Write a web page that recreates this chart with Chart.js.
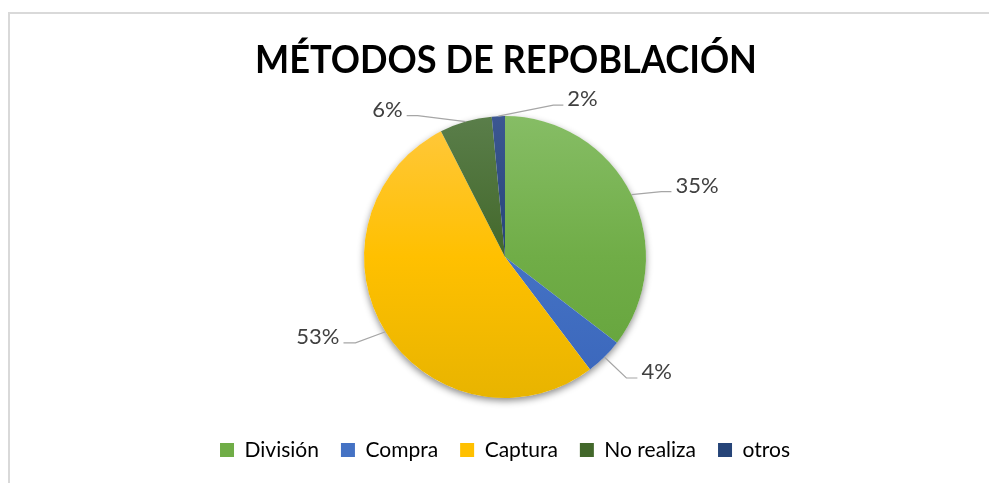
<!DOCTYPE html>
<html>
<head>
<meta charset="utf-8">
<script src="https://cdn.jsdelivr.net/npm/chart.js@4.4.1/dist/chart.umd.min.js"></script>
<style>
  html, body { margin: 0; padding: 0; background: #ffffff; }
  #frame { position: absolute; left: 8px; top: 12px; width: 1100px; height: 600px;
           border-left: 2px solid #d9d9d9; border-top: 2px solid #d9d9d9; }
  #wrap { position: absolute; left: 0; top: 0; width: 989px; height: 483px; }
</style>
</head>
<body>
<div id="frame"></div>
<div id="wrap"><canvas id="c" width="989" height="483"></canvas></div>
<script>
// ---- data ----
const chartTitle = 'MÉTODOS DE REPOBLACIÓN';
const categories = ['División', 'Compra', 'Captura', 'No realiza', 'otros'];
const values = [35.4, 4.3, 52.8, 6.0, 1.5];

// ---- styles ----
const baseColors = ['#70ad47', '#4472c4', '#ffc000', '#43682b', '#264478'];
const topColors = ['#86bd65', '#6189d2', '#ffc83f', '#5a7e4a', '#3c5792'];
const bottomColors = ['#63a23a', '#3a66bb', '#e8b400', '#3b6324', '#203d73'];
const PIE_R = 141;
const labelLeaders = [
  { dx: 30, dy: -3, h: 10 },
  { dx: 22, dy: 21, h: 11 },
  { dx: -30, dy: 11, h: -12 },
  { dx: -48, dy: -6, h: -11 },
  { dx: 55, dy: -11, h: 10 }
];

function sliceFill(ctx) {
  const i = ctx.dataIndex;
  const chart = ctx.chart;
  const ca = chart.chartArea;
  if (!ca || i === undefined) return baseColors[i || 0];
  const cy = (ca.top + ca.bottom) / 2;
  const g = chart.ctx.createLinearGradient(0, cy - PIE_R, 0, cy + PIE_R);
  g.addColorStop(0, topColors[i]);
  g.addColorStop(0.5, baseColors[i]);
  g.addColorStop(1, bottomColors[i]);
  return g;
}

const titlePlugin = {
  id: 'bigTitle',
  afterDraw(chart) {
    const c = chart.ctx;
    c.save();
    c.font = 'bold 38px Lato, "Open Sans", sans-serif';
    c.fillStyle = '#000000';
    c.textAlign = 'center';
    c.textBaseline = 'alphabetic';
    const w = c.measureText(chartTitle).width;
    const sx = 502 / w;
    c.translate(506, 73);
    c.scale(sx, 1);
    c.fillText(chartTitle, 0, 0);
    c.restore();
  }
};

const shadowPlugin = {
  id: 'pieShadow',
  beforeDatasetsDraw(chart) {
    const arc = chart.getDatasetMeta(0).data[0];
    if (!arc) return;
    const c = chart.ctx;
    c.save();
    c.shadowColor = 'rgba(0,0,0,0.45)';
    c.shadowBlur = 7;
    c.shadowOffsetX = 0;
    c.shadowOffsetY = 3;
    c.beginPath();
    c.arc(arc.x, arc.y, arc.outerRadius, 0, Math.PI * 2);
    c.fillStyle = '#ffffff';
    c.fill();
    c.restore();
  }
};

const labelPlugin = {
  id: 'outLabels',
  afterDatasetsDraw(chart) {
    const meta = chart.getDatasetMeta(0);
    const total = values.reduce((a, b) => a + b, 0);
    const c = chart.ctx;
    c.save();
    meta.data.forEach((arc, i) => {
      const mid = (arc.startAngle + arc.endAngle) / 2;
      const ax = arc.x + Math.cos(mid) * arc.outerRadius;
      const ay = arc.y + Math.sin(mid) * arc.outerRadius;
      const L = labelLeaders[i];
      const ex = ax + L.dx, ey = ay + L.dy;
      const fx = ex + L.h;
      c.beginPath();
      c.moveTo(ax, ay);
      c.lineTo(ex, ey);
      c.lineTo(fx, ey);
      c.strokeStyle = '#a6a6a6';
      c.lineWidth = 1.2;
      c.stroke();
      const side = L.h >= 0 ? 1 : -1;
      c.font = '22px Lato, "Open Sans", sans-serif';
      c.fillStyle = '#404040';
      c.textAlign = side > 0 ? 'left' : 'right';
      c.textBaseline = 'middle';
      c.fillText(Math.round(values[i] / total * 100) + '%', fx + side * 4, ey - 6);
    });
    c.restore();
  }
};

new Chart(document.getElementById('c'), {
  type: 'pie',
  data: {
    labels: categories,
    datasets: [{
      data: values,
      backgroundColor: sliceFill,
      borderWidth: 0,
      radius: PIE_R
    }]
  },
  options: {
    responsive: false,
    animation: false,
    layout: { padding: { left: 21, right: 0, top: 96.5, bottom: 12.5 } },
    plugins: {
      title: { display: false },
      legend: {
        position: 'bottom',
        labels: {
          boxWidth: 14,
          boxHeight: 14,
          padding: 22,
          color: '#1a1a1a',
          font: { family: 'Lato, "Open Sans", sans-serif', size: 21 },
          generateLabels(chart) {
            return categories.map((name, i) => ({
              text: name,
              fillStyle: baseColors[i],
              strokeStyle: baseColors[i],
              lineWidth: 0,
              hidden: false,
              index: i,
              datasetIndex: 0
            }));
          }
        }
      },
      tooltip: { enabled: false }
    }
  },
  plugins: [shadowPlugin, labelPlugin, titlePlugin]
});
</script>
</body>
</html>
